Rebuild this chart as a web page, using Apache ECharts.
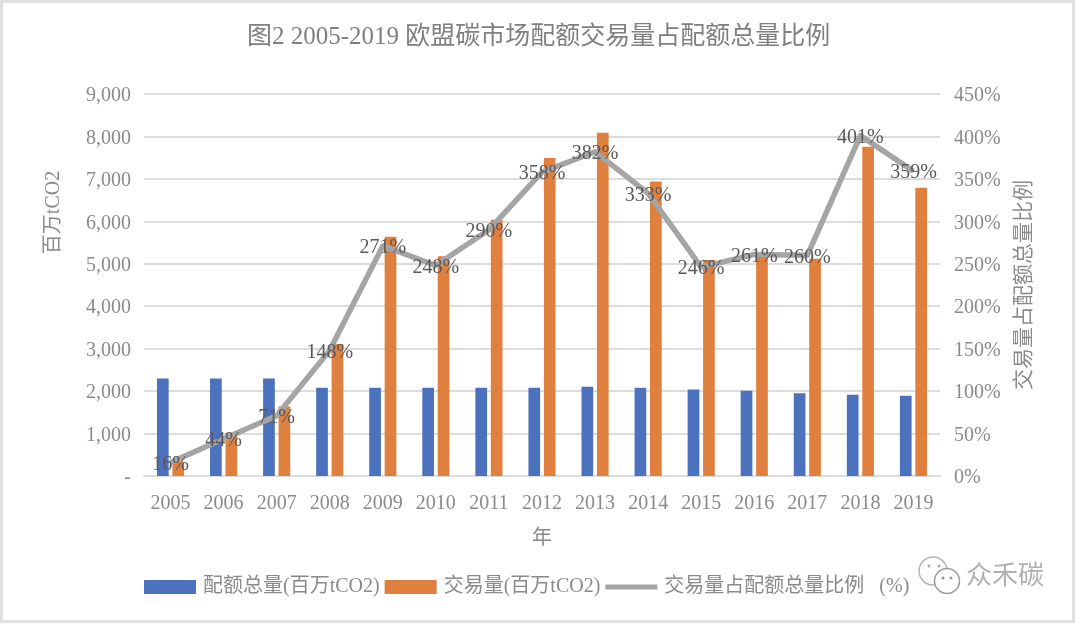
<!DOCTYPE html>
<html>
<head>
<meta charset="utf-8">
<title>欧盟碳市场配额交易量占配额总量比例</title>
<script src="https://cdn.jsdelivr.net/npm/echarts@6/dist/echarts.min.js"></script>
<style>
  html, body { margin: 0; padding: 0; background: #fff; }
  #chart { position: absolute; left: 0; top: 0; width: 1080px; height: 625px; }
  #frame { position: absolute; left: 0; top: 0; width: 1069px; height: 617px; border: 3px solid #e0e0e0; pointer-events: none; }
</style>
</head>
<body>
<div id="chart"></div>
<div id="frame"></div>
<script>
var years = ['2005', '2006', '2007', '2008', '2009', '2010', '2011', '2012', '2013', '2014', '2015', '2016', '2017', '2018', '2019'];
// 配额总量
var allowance = [2300, 2300, 2300, 2080, 2080, 2080, 2080, 2080, 2100, 2080, 2040, 2010, 1950, 1915, 1890];
// 交易量
var volume = [340, 1010, 1635, 3110, 5635, 5180, 6040, 7490, 8085, 6940, 5090, 5200, 5120, 7755, 6790];
// 交易量占配额总量比例
var ratio = [16, 44, 71, 148, 271, 248, 290, 358, 382, 333, 246, 261, 260, 401, 359];

var fontName = '"Liberation Serif", "Noto Sans CJK SC"';
var textGray = '#8a8a8a';
var gridGray = '#dcdcdc';

var chart = echarts.init(document.getElementById('chart'));
var option = {
  animation: false,
  backgroundColor: '#fff',
  textStyle: { fontFamily: fontName },
  title: {
    text: '图2 2005-2019 欧盟碳市场配额交易量占配额总量比例',
    left: 242,
    top: 20,
    textStyle: { fontFamily: fontName, fontSize: 25, fontWeight: 'normal', color: '#7f7f7f' }
  },
  legend: {
    left: 139,
    top: 572,
    itemWidth: 52,
    itemHeight: 14,
    itemGap: 5,
    symbolKeepAspect: false,
    textStyle: { fontFamily: fontName, fontSize: 20, color: textGray, padding: [0, 0, 0, 2] },
    data: [
      { name: '配额总量(百万tCO2)', icon: 'rect' },
      { name: '交易量(百万tCO2)', icon: 'rect' },
      // 细线图例，上下两个空点撑开高度
      { name: '交易量占配额总量比例   (%)', icon: 'path://M0,0 L0.01,0 L0,0 Z M0,4.5 H52 V9.5 H0 Z M0,14 L0.01,14 L0,14 Z' }
    ]
  },
  grid: { left: 144, right: 140, top: 94, bottom: 149 },
  xAxis: {
    type: 'category',
    data: years,
    name: '年',
    nameLocation: 'middle',
    nameGap: 53,
    nameTextStyle: { fontFamily: fontName, fontSize: 20, color: textGray },
    axisTick: { show: false },
    axisLine: { lineStyle: { color: gridGray, width: 2 } },
    axisLabel: { fontFamily: fontName, fontSize: 20, color: textGray, margin: 18 }
  },
  yAxis: [
    {
      type: 'value',
      min: 0,
      max: 9000,
      interval: 1000,
      name: '百万tCO2',
      nameLocation: 'middle',
      nameGap: 80,
      nameRotate: 90,
      nameTextStyle: { fontFamily: fontName, fontSize: 20, color: textGray, padding: [0, 0, 0, 145] },
      axisLine: { show: false },
      axisTick: { show: false },
      splitLine: { lineStyle: { color: gridGray, width: 2 } },
      axisLabel: {
        fontFamily: fontName,
        fontSize: 20,
        color: textGray,
        margin: 13,
        verticalAlign: 'top',
        lineHeight: 4,
        formatter: function(v) {
          return v === 0 ? '-' : v.toLocaleString('en-US');
        }
      }
    },
    {
      type: 'value',
      min: 0,
      max: 450,
      interval: 50,
      name: '交易量占配额总量比例',
      nameLocation: 'middle',
      nameGap: 74,
      nameRotate: 90,
      nameTextStyle: { fontFamily: fontName, fontSize: 21, color: textGray },
      axisLine: { show: false },
      axisTick: { show: false },
      splitLine: { show: false },
      axisLabel: { fontFamily: fontName, fontSize: 20, color: textGray, margin: 14, verticalAlign: 'top', lineHeight: 4, formatter: '{value}%' }
    }
  ],
  series: [
    {
      name: '配额总量(百万tCO2)',
      type: 'bar',
      data: allowance,
      barWidth: 11.7,
      barGap: '32%',
      itemStyle: { color: '#4d72bd' }
    },
    {
      name: '交易量(百万tCO2)',
      type: 'bar',
      data: volume,
      barWidth: 11.7,
      itemStyle: { color: '#e0803f' }
    },
    {
      name: '交易量占配额总量比例   (%)',
      type: 'line',
      yAxisIndex: 1,
      data: ratio,
      symbol: 'circle',
      symbolSize: 1,
      showSymbol: true,
      lineStyle: { color: '#a5a5a5', width: 5.5, join: 'round' },
      itemStyle: { color: '#a5a5a5' },
      z: 5,
      label: {
        show: true,
        position: 'inside',
        offset: [0, 2],
        fontFamily: fontName,
        fontSize: 20,
        color: '#595959',
        formatter: '{c}%'
      }
    }
  ],
  // 右下角水印
  graphic: [
    { type: 'circle', shape: { cx: 933, cy: 571, r: 14 }, style: { fill: '#fff', stroke: '#b5b5b5', lineWidth: 1.5 } },
    { type: 'circle', shape: { cx: 929, cy: 566, r: 1.5 }, style: { fill: '#aaa' } },
    { type: 'circle', shape: { cx: 939, cy: 566, r: 1.5 }, style: { fill: '#aaa' } },
    { type: 'circle', shape: { cx: 947, cy: 581, r: 12.5 }, style: { fill: '#fff', stroke: '#999', lineWidth: 1.5 } },
    { type: 'circle', shape: { cx: 943, cy: 578, r: 1.5 }, style: { fill: '#999' } },
    { type: 'circle', shape: { cx: 951, cy: 578, r: 1.5 }, style: { fill: '#999' } },
    { type: 'text', left: 966, top: 564, style: { text: '众禾碳', fontFamily: fontName, fontSize: 26, fill: '#b0b0b0' } }
  ]
};
chart.setOption(option);
window.onresize = chart.resize;
</script>
</body>
</html>
